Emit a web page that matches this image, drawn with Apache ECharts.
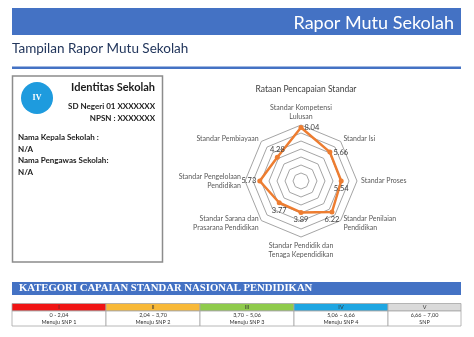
<!DOCTYPE html>
<html>
<head>
<meta charset="utf-8">
<script src="https://cdn.jsdelivr.net/npm/echarts@6/dist/echarts.min.js"></script>
<style>
  html, body { margin: 0; padding: 0; background: #fff; }
  #main { width: 474px; height: 337px; }
</style>
</head>
<body>
<div id="main"></div>
<script>
// standards in clockwise order, starting at the top
var standards = [
    'Standar Kompetensi\nLulusan',
    'Standar Isi',
    'Standar Proses',
    'Standar Penilaian\nPendidikan',
    'Standar Pendidik dan\nTenaga Kependidikan',
    'Standar Sarana dan\nPrasarana Pendidikan',
    'Standar Pengelolaan\nPendidikan',
    'Standar Pembiayaan'
];
var averages = [8.04, 5.66, 5.54, 6.22, 3.89, 3.77, 5.73, 4.28];

var levels = ['I', 'II', 'III', 'IV', 'V'];
var levelRanges = ['0 - 2,04', '2,04 \u2013 3,70', '3,70 \u2013 5,06', '5,06 \u2013 6,66', '6,66 \u2013 7,00'];
var levelNotes = ['Menuju SNP 1', 'Menuju SNP 2', 'Menuju SNP 3', 'Menuju SNP 4', 'SNP'];
var schoolLevel = 'IV';

// styles
var levelColors = ['#F01414', '#F8B938', '#8FCB4C', '#1EA6E2', '#DADADA'];
var labelPos = ['right', 'right', 'bottom', 'bottom', 'bottom', 'bottom', 'left', 'top'];
var FONT = 'Lato, "Open Sans", sans-serif';

// echarts radar runs counter-clockwise, so flip the order after the first axis
var order = [0];
for (var k = standards.length - 1; k > 0; k--) order.push(k);
var indicators = order.map(function (i) { return {name: standards[i], min: -2, max: 8.5}; });
var values = order.map(function (i) { return averages[i]; });

function labelSeries(pos) {
    return {
        type: 'radar',
        silent: true,
        z: 3,
        symbol: 'circle',
        symbolSize: 1,
        lineStyle: {opacity: 0},
        itemStyle: {color: 'rgba(0,0,0,0)'},
        label: {
            show: true,
            position: pos,
            distance: 3,
            color: '#404040',
            fontSize: 7.5,
            fontFamily: FONT,
            formatter: function (p) {
                var j = p.dimensionIndex != null ? p.dimensionIndex : values.indexOf(p.value);
                return labelPos[order[j]] === pos ? averages[order[j]].toFixed(2) : '';
            }
        },
        data: [{value: values}]
    };
}

var graphics = [
    {type: 'rect', shape: {x: 12, y: 8, width: 449, height: 27}, style: {fill: '#4472C4'}},
    {type: 'text', x: 454, y: 23, style: {text: 'Rapor Mutu Sekolah', align: 'right', verticalAlign: 'middle', font: '18px ' + FONT, fill: '#fff'}},
    {type: 'text', x: 12, y: 49, style: {text: 'Tampilan Rapor Mutu Sekolah', align: 'left', verticalAlign: 'middle', font: '13.5px ' + FONT, fill: '#22365C'}},
    {type: 'rect', shape: {x: 12, y: 66.5, width: 449, height: 2.5}, style: {fill: '#4472C4'}},

    {type: 'rect', shape: {x: 12.5, y: 76, width: 150, height: 186}, style: {fill: '#fff', stroke: '#8C8C8C', lineWidth: 1.5}},
    {type: 'circle', shape: {cx: 37, cy: 98, r: 16}, style: {fill: '#1E9BDE'}},
    {type: 'text', x: 37, y: 98, style: {text: schoolLevel, align: 'center', verticalAlign: 'middle', font: 'bold 8px "Liberation Serif", serif', fill: '#fff'}},
    {type: 'text', x: 155, y: 87, style: {text: 'Identitas Sekolah', align: 'right', verticalAlign: 'middle', font: 'bold 11px ' + FONT, fill: '#1a1a1a'}},
    {type: 'text', x: 155, y: 106, style: {text: 'SD Negeri 01 XXXXXXX', align: 'right', verticalAlign: 'middle', font: 'bold 8px ' + FONT, fill: '#1a1a1a'}},
    {type: 'text', x: 155, y: 118, style: {text: 'NPSN : XXXXXXX', align: 'right', verticalAlign: 'middle', font: 'bold 8px ' + FONT, fill: '#1a1a1a'}},
    {type: 'text', x: 18, y: 137, style: {text: 'Nama Kepala Sekolah :', align: 'left', verticalAlign: 'middle', font: 'bold 8px ' + FONT, fill: '#1a1a1a'}},
    {type: 'text', x: 18, y: 149, style: {text: 'N/A', align: 'left', verticalAlign: 'middle', font: 'bold 8px ' + FONT, fill: '#1a1a1a'}},
    {type: 'text', x: 18, y: 160, style: {text: 'Nama Pengawas Sekolah:', align: 'left', verticalAlign: 'middle', font: 'bold 8px ' + FONT, fill: '#1a1a1a'}},
    {type: 'text', x: 18, y: 172, style: {text: 'N/A', align: 'left', verticalAlign: 'middle', font: 'bold 8px ' + FONT, fill: '#1a1a1a'}},

    {type: 'text', x: 306, y: 89, style: {text: 'Rataan Pencapaian Standar', align: 'center', verticalAlign: 'middle', font: '8.5px ' + FONT, fill: '#404040'}},

    {type: 'rect', shape: {x: 12, y: 282, width: 449, height: 13}, style: {fill: '#4472C4'}},
    {type: 'text', x: 19, y: 288.5, style: {text: 'KATEGORI CAPAIAN STANDAR NASIONAL PENDIDIKAN', align: 'left', verticalAlign: 'middle', font: 'bold 10.7px "Liberation Serif", serif', fill: '#fff'}}
];

levels.forEach(function (lv, i) {
    var x0 = 12 + i * 94;
    var w = i < levels.length - 1 ? 94 : 73;
    graphics.push(
        {type: 'rect', shape: {x: x0, y: 303.5, width: w, height: 7.5}, style: {fill: levelColors[i], stroke: '#A6A6A6', lineWidth: 0.8}},
        {type: 'rect', shape: {x: x0, y: 311, width: w, height: 15}, style: {fill: '#fff', stroke: '#A6A6A6', lineWidth: 0.8}},
        {type: 'text', x: x0 + w / 2, y: 307.4, style: {text: lv, align: 'center', verticalAlign: 'middle', font: '5.5px ' + FONT, fill: '#333'}},
        {type: 'text', x: x0 + w / 2, y: 315, style: {text: levelRanges[i], align: 'center', verticalAlign: 'middle', font: '5.5px ' + FONT, fill: '#333'}},
        {type: 'text', x: x0 + w / 2, y: 322, style: {text: levelNotes[i], align: 'center', verticalAlign: 'middle', font: '5.5px ' + FONT, fill: '#333'}}
    );
});

var chart = echarts.init(document.getElementById('main'));
chart.setOption({
    animation: false,
    backgroundColor: '#fff',
    graphic: {elements: graphics},
    radar: {
        center: [301, 181],
        radius: 56,
        startAngle: 90,
        splitNumber: 7,
        shape: 'polygon',
        nameGap: 4,
        indicator: indicators,
        axisName: {color: '#595959', fontSize: 7, fontFamily: FONT, lineHeight: 9},
        splitLine: {lineStyle: {color: '#9A9A9A', width: 0.9}},
        splitArea: {show: false},
        axisLine: {show: false},
        axisTick: {show: false},
        axisLabel: {show: false}
    },
    series: [
        {
            type: 'radar',
            z: 2,
            symbol: 'circle',
            symbolSize: 5,
            lineStyle: {color: '#ED7D31', width: 2.5},
            itemStyle: {color: '#ED7D31'},
            data: [{value: values}]
        },
        labelSeries('right'),
        labelSeries('bottom'),
        labelSeries('left'),
        labelSeries('top')
    ]
});
</script>
</body>
</html>
